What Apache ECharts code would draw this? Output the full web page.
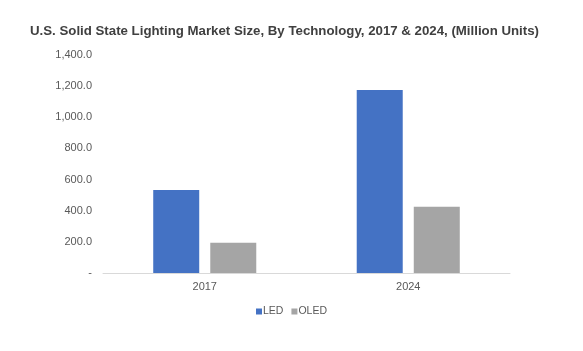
<!DOCTYPE html>
<html>
<head>
<meta charset="utf-8">
<script src="https://cdn.jsdelivr.net/npm/echarts@6/dist/echarts.min.js"></script>
<style>
  html, body { margin: 0; padding: 0; background: #fff; }
  #chart { width: 583px; height: 351px; }
</style>
</head>
<body>
<div id="chart"></div>
<script>
  // chart data
  const years = ['2017', '2024']
  const ledValues = [533, 1175]
  const oledValues = [195, 426]
  const seriesNames = ['LED', 'OLED']

  const chart = echarts.init(document.getElementById('chart'))

  const labelColor = '#595959'

  const option = {
    animation: false,
    title: {
      text: 'U.S. Solid State Lighting Market Size, By Technology, 2017 & 2024, (Million Units)',
      left: 30,
      top: 25,
      padding: 0,
      textStyle: {
        fontFamily: 'Liberation Sans',
        fontSize: 13.25,
        fontWeight: 'bold',
        color: '#404040'
      }
    },
    legend: {
      data: seriesNames,
      bottom: 29,
      left: 'center',
      itemWidth: 6,
      itemHeight: 6,
      itemGap: 8,
      icon: 'rect',
      textStyle: { color: labelColor, fontSize: 10.5, fontFamily: 'Liberation Sans', padding: [0, 0, 0, -4] }
    },
    grid: {
      left: 103,
      right: 73,
      top: 55,
      bottom: 78
    },
    xAxis: {
      type: 'category',
      data: years,
      axisLine: { lineStyle: { color: '#d9d9d9' } },
      axisTick: { show: false },
      axisLabel: { color: labelColor, fontSize: 11, fontFamily: 'Liberation Sans', margin: 8 }
    },
    yAxis: {
      type: 'value',
      min: 0,
      max: 1400,
      interval: 200,
      splitLine: { show: false },
      axisLine: { show: false },
      axisTick: { show: false },
      axisLabel: {
        color: labelColor,
        fontSize: 11,
        fontFamily: 'Liberation Sans',
        margin: 11,
        formatter: function (v) {
          if (v === 0) return '-'
          return v.toLocaleString('en-US', { minimumFractionDigits: 1, maximumFractionDigits: 1 })
        }
      }
    },
    series: [
      {
        name: seriesNames[0],
        type: 'bar',
        data: ledValues,
        barWidth: 46,
        barGap: '24%',
        itemStyle: { color: '#4472c4' }
      },
      {
        name: seriesNames[1],
        type: 'bar',
        data: oledValues,
        barWidth: 46,
        itemStyle: { color: '#a5a5a5' }
      }
    ]
  }

  chart.setOption(option)
</script>
</body>
</html>
